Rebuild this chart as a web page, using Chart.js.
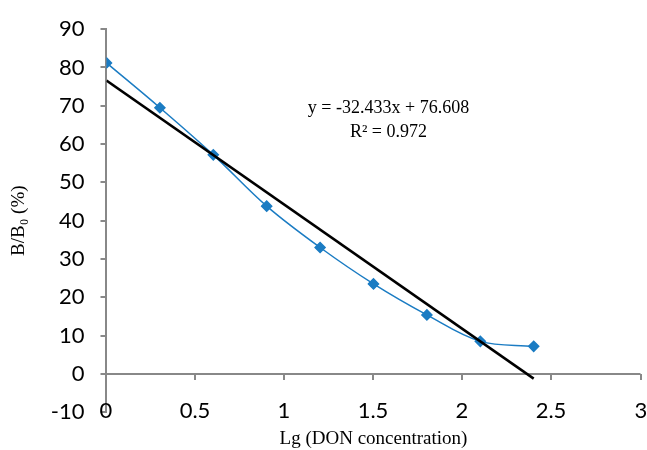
<!DOCTYPE html>
<html>
<head>
<meta charset="utf-8">
<script src="https://cdn.jsdelivr.net/npm/chart.js@4/dist/chart.umd.min.js"></script>
<style>
  html, body { margin: 0; padding: 0; background: #fff; }
  #wrap { width: 647px; height: 450px; position: relative; }
</style>
</head>
<body>
<div id="wrap"><canvas id="chart"></canvas></div>
<script>
// data
const lgConc = [0, 0.3, 0.6, 0.9, 1.2, 1.5, 1.8, 2.1, 2.4];
const bb0 = [81.2, 69.5, 57.2, 43.8, 33.0, 23.5, 15.4, 8.5, 7.2];

// linear trendline shown on the chart
const slope = -32.433;
const intercept = 76.608;
const trendX = [0, 2.4];
const eqLines = ['y = -32.433x + 76.608', 'R\u00b2 = 0.972'];

const axisGray = '#888888';
const blue = '#1B7CC3';
const tickFont = '22px Lato';

// Excel puts the x axis at y = 0 but its labels at the bottom of the plot
const xAxisAtZero = {
    id: 'xAxisAtZero',
    afterDatasetsDraw(chart) {
        const ctx = chart.ctx;
        const x = chart.scales.x, y = chart.scales.y;
        const y0 = y.getPixelForValue(0);
        ctx.save();
        ctx.strokeStyle = axisGray;
        ctx.lineWidth = 2;
        ctx.fillStyle = '#000';
        ctx.font = tickFont;
        ctx.textAlign = 'center';
        ctx.textBaseline = 'middle';
        x.ticks.forEach(t => {
            const px = Math.round(x.getPixelForValue(t.value));
            ctx.beginPath();
            ctx.moveTo(px, y0);
            ctx.lineTo(px, y0 + 6);
            ctx.stroke();
            ctx.fillText(String(t.value), px, chart.chartArea.bottom - 1);
        });
        // equation of the trendline
        ctx.font = '18px "Liberation Serif"';
        const cx = chart.chartArea.left + 282;
        ctx.fillText(eqLines[0], cx, 108);
        ctx.fillText(eqLines[1], cx, 132);
        ctx.restore();
    }
};

new Chart(document.getElementById('chart'), {
    type: 'scatter',
    data: {
        datasets: [{
            label: 'B/B0',
            data: lgConc.map((v, i) => ({ x: v, y: bb0[i] })),
            showLine: true,
            borderColor: blue,
            backgroundColor: blue,
            borderWidth: 1.5,
            tension: 0.35,
            pointStyle: 'rectRot',
            pointRadius: 5,
            pointHoverRadius: 5,
            order: 2
        }, {
            label: 'Linear',
            data: trendX.map(v => ({ x: v, y: slope * v + intercept })),
            showLine: true,
            borderColor: '#000',
            borderWidth: 2.5,
            pointRadius: 0,
            tension: 0,
            order: 1
        }]
    },
    options: {
        responsive: true,
        maintainAspectRatio: false,
        animation: false,
        layout: { padding: { top: 13, right: 4, left: 8, bottom: 0 } },
        plugins: {
            legend: { display: false },
            tooltip: { enabled: false }
        },
        scales: {
            x: {
                type: 'linear',
                min: 0,
                max: 3,
                ticks: { stepSize: 0.5, display: false },
                grid: { display: false, drawTicks: false },
                border: { display: false },
                title: {
                    display: true,
                    text: 'Lg (DON concentration)',
                    color: '#000',
                    font: { family: 'Liberation Serif', size: 19 },
                    padding: { top: 15, bottom: 0 }
                }
            },
            y: {
                min: -10,
                max: 90,
                ticks: {
                    stepSize: 10,
                    color: '#000',
                    padding: 16,
                    font: { family: 'Lato', size: 22 }
                },
                grid: {
                    color: ctx => ctx.tick && ctx.tick.value === 0 ? axisGray : 'rgba(0,0,0,0)',
                    tickColor: axisGray,
                    tickLength: 6,
                    lineWidth: 2
                },
                border: { display: true, color: axisGray, width: 2 },
                title: {
                    display: true,
                    text: 'B/B\u2080 (%)',
                    color: '#000',
                    font: { family: 'Liberation Serif', size: 19 },
                    padding: { top: 0, bottom: 4 }
                }
            }
        }
    },
    plugins: [xAxisAtZero]
});
</script>
</body>
</html>
